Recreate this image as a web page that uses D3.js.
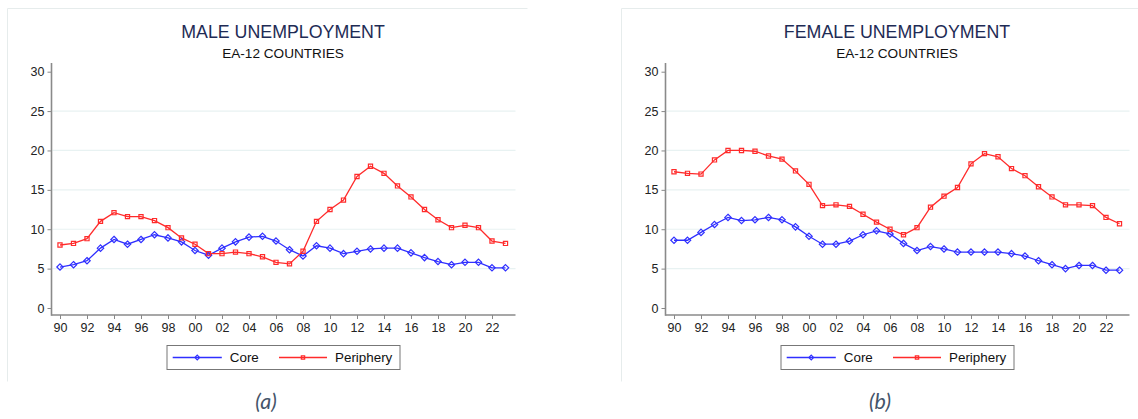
<!DOCTYPE html>
<html><head><meta charset="utf-8">
<script src="https://cdn.jsdelivr.net/npm/d3@7"></script>
<style>html,body{margin:0;padding:0;background:#fff;}svg{display:block;}</style>
</head><body>
<svg id="c" width="1138" height="419"></svg>
<script>
const years = [1990,1991,1992,1993,1994,1995,1996,1997,1998,1999,2000,2001,2002,2003,2004,2005,2006,2007,2008,2009,2010,2011,2012,2013,2014,2015,2016,2017,2018,2019,2020,2021,2022,2023];
const maleCore = [5.2,5.5,6.0,7.6,8.7,8.1,8.7,9.3,8.9,8.4,7.3,6.7,7.6,8.4,9.0,9.1,8.5,7.4,6.6,7.9,7.6,6.9,7.2,7.5,7.6,7.6,7.0,6.4,5.9,5.5,5.8,5.8,5.1,5.1];
const malePeriphery = [8.0,8.2,8.8,11.0,12.1,11.6,11.6,11.1,10.2,8.9,8.1,6.9,6.9,7.1,6.9,6.5,5.8,5.6,7.2,11.0,12.5,13.7,16.7,18.0,17.1,15.5,14.1,12.5,11.2,10.2,10.5,10.2,8.5,8.2];
const femaleCore = [8.6,8.6,9.6,10.6,11.5,11.1,11.2,11.5,11.2,10.3,9.1,8.1,8.1,8.5,9.3,9.8,9.4,8.2,7.3,7.8,7.5,7.1,7.1,7.1,7.1,6.9,6.6,6.0,5.5,5.0,5.4,5.4,4.8,4.8];
const femalePeriphery = [17.3,17.1,17.0,18.8,20.0,20.0,19.9,19.3,18.9,17.4,15.7,13.0,13.1,12.9,11.9,10.9,10.0,9.3,10.2,12.8,14.2,15.3,18.3,19.6,19.2,17.7,16.8,15.4,14.1,13.1,13.1,13.0,11.5,10.7];
const xTickYears = [1990,1992,1994,1996,1998,2000,2002,2004,2006,2008,2010,2012,2014,2016,2018,2020,2022];
const xTickLabels = ['90','92','94','96','98','00','02','04','06','08','10','12','14','16','18','20','22'];
const yTicks = [0,5,10,15,20,25,30];
const seriesNames = ['Core','Periphery'];

const svg = d3.select('#c');
const BLUE = '#2f2fff', RED = '#ff2b2b';
const FONT = '"Liberation Sans", Arial, Helvetica, sans-serif';

function panel(ox, title, sub, core, peri, caption) {
  const g = svg.append('g').attr('transform', `translate(${ox},0)`);
  // panel frame (top and left edges)
  g.append('path').attr('d', 'M7.5,381.5 V8.5 H527.5')
    .attr('fill', 'none').attr('stroke', '#e6ecec').attr('stroke-width', 1);

  const x = d3.scaleLinear().domain([1990, 2023]).range([60, 505.5]);
  const y = d3.scaleLinear().domain([0, 30]).range([308, 71.7]);
  const axisX0 = 51.5, axisX1 = 515.5, axisY = 315;

  // gridlines
  g.append('g').selectAll('line').data(yTicks.filter(t => t > 0 && t < 30)).join('line')
    .attr('x1', axisX0 + 1).attr('x2', axisX1).attr('y1', d => y(d)).attr('y2', d => y(d))
    .attr('stroke', '#e8f2f2').attr('stroke-width', 1.2);

  // y axis
  const ya = g.append('g').attr('transform', `translate(${axisX0},0)`)
    .call(d3.axisLeft(y).tickValues(yTicks).tickSize(4).tickPadding(3));
  ya.select('.domain').remove();
  ya.selectAll('.tick line').attr('stroke', '#888').attr('stroke-width', 1);
  ya.selectAll('.tick text').attr('font-family', FONT).attr('font-size', 12.5).attr('fill', '#222');
  g.append('line').attr('x1', axisX0).attr('x2', axisX0).attr('y1', 63).attr('y2', axisY + 0.8)
    .attr('stroke', '#8a8a8a').attr('stroke-width', 1.6);

  // x axis
  const xa = g.append('g').attr('transform', `translate(0,${axisY})`)
    .call(d3.axisBottom(x).tickValues(xTickYears).tickFormat((d, i) => xTickLabels[i]).tickSize(4).tickPadding(4));
  xa.select('.domain').remove();
  xa.selectAll('.tick line').attr('stroke', '#888').attr('stroke-width', 1);
  xa.selectAll('.tick text').attr('font-family', FONT).attr('font-size', 12.5).attr('fill', '#222');
  g.append('line').attr('x1', axisX0).attr('x2', axisX1).attr('y1', axisY).attr('y2', axisY)
    .attr('stroke', '#8a8a8a').attr('stroke-width', 1.6);

  const line = d3.line().x((d, i) => x(years[i])).y(d => y(d));
  const diamond = d3.symbol().type(d3.symbolDiamond2).size(26);
  const square = d3.symbol().type(d3.symbolSquare2).size(22);

  g.append('path').datum(core).attr('d', line).attr('fill', 'none').attr('stroke', BLUE).attr('stroke-width', 1.3);
  g.append('path').datum(peri).attr('d', line).attr('fill', 'none').attr('stroke', RED).attr('stroke-width', 1.3);
  g.append('g').selectAll('path').data(core).join('path')
    .attr('transform', (d, i) => `translate(${x(years[i])},${y(d)})`).attr('d', diamond)
    .attr('fill', 'none').attr('stroke', BLUE).attr('stroke-width', 1.2);
  g.append('g').selectAll('path').data(peri).join('path')
    .attr('transform', (d, i) => `translate(${x(years[i])},${y(d)})`).attr('d', square)
    .attr('fill', 'none').attr('stroke', RED).attr('stroke-width', 1.2);

  // titles
  g.append('text').attr('x', 283).attr('y', 37.7).attr('text-anchor', 'middle')
    .attr('font-family', FONT).attr('font-size', 17.8).attr('fill', '#1e2b55').text(title);
  g.append('text').attr('x', 283).attr('y', 57.7).attr('text-anchor', 'middle')
    .attr('font-family', FONT).attr('font-size', 13.6).attr('fill', '#111').text(sub);

  // legend
  const lg = g.append('g');
  lg.append('rect').attr('x', 167).attr('y', 345.5).attr('width', 233).attr('height', 24)
    .attr('fill', '#fff').attr('stroke', '#777').attr('stroke-width', 1);
  const items = [
    {name: seriesNames[0], color: BLUE, type: d3.symbolDiamond2, x0: 172.7, x1: 221.8, tx: 229.8},
    {name: seriesNames[1], color: RED, type: d3.symbolSquare2, x0: 279, x1: 327, tx: 335}
  ];
  items.forEach(it => {
    lg.append('line').attr('x1', it.x0).attr('x2', it.x1).attr('y1', 357.5).attr('y2', 357.5)
      .attr('stroke', it.color).attr('stroke-width', 1.3);
    lg.append('path').attr('transform', `translate(${(it.x0 + it.x1) / 2},357.5)`)
      .attr('d', d3.symbol().type(it.type).size(14))
      .attr('fill', 'none').attr('stroke', it.color).attr('stroke-width', 1.2);
    lg.append('text').attr('x', it.tx).attr('y', 362.3).attr('font-family', FONT)
      .attr('font-size', 13.4).attr('fill', '#111').text(it.name);
  });

  // caption
  g.append('text').attr('x', 266).attr('y', 409).attr('text-anchor', 'middle')
    .attr('font-family', 'Lato, "Open Sans", sans-serif').attr('font-style', 'italic')
    .attr('font-size', 21.5).attr('fill', '#44546a').text(caption);
}

panel(0, 'MALE UNEMPLOYMENT', 'EA-12 COUNTRIES', maleCore, malePeriphery, '(a)');
panel(614, 'FEMALE UNEMPLOYMENT', 'EA-12 COUNTRIES', femaleCore, femalePeriphery, '(b)');
</script>
</body></html>
